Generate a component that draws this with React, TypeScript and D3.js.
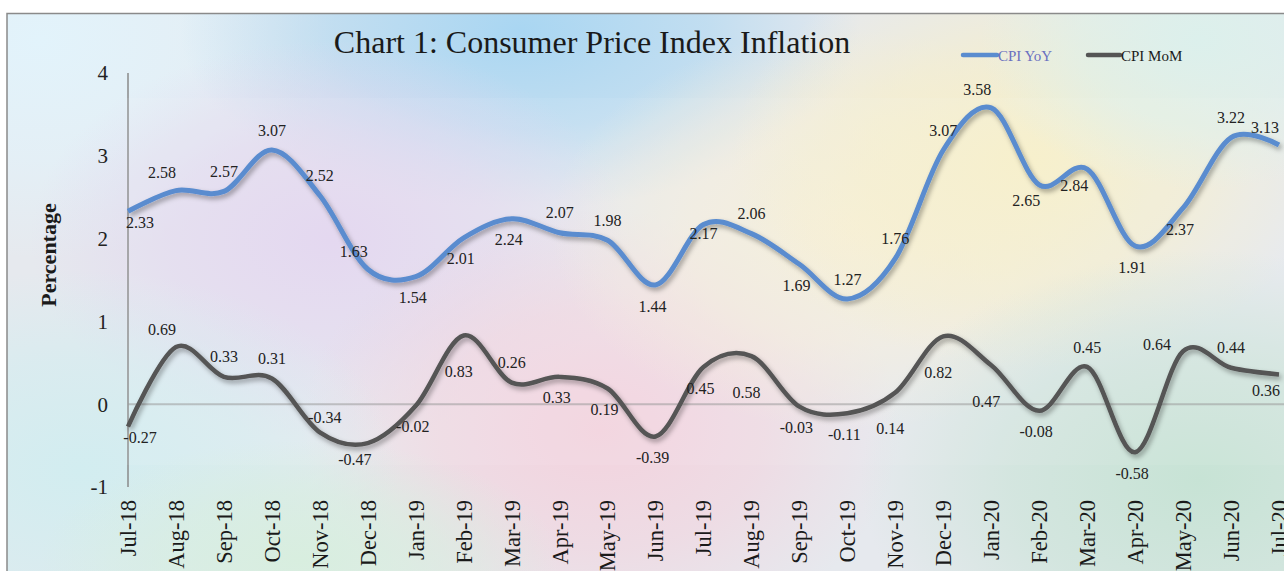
import React from 'react';
import * as d3 from 'd3';

const months = [
  'Jul-18', 'Aug-18', 'Sep-18', 'Oct-18', 'Nov-18', 'Dec-18', 'Jan-19', 'Feb-19', 'Mar-19',
  'Apr-19', 'May-19', 'Jun-19', 'Jul-19', 'Aug-19', 'Sep-19', 'Oct-19', 'Nov-19', 'Dec-19',
  'Jan-20', 'Feb-20', 'Mar-20', 'Apr-20', 'May-20', 'Jun-20', 'Jul-20',
];
const cpiYoY = [
  2.33, 2.58, 2.57, 3.07, 2.52, 1.63, 1.54, 2.01, 2.24, 2.07, 1.98, 1.44, 2.17,
  2.06, 1.69, 1.27, 1.76, 3.07, 3.58, 2.65, 2.84, 1.91, 2.37, 3.22, 3.13,
];
const cpiMoM = [
  -0.27, 0.69, 0.33, 0.31, -0.34, -0.47, -0.02, 0.83, 0.26, 0.33, 0.19, -0.39, 0.45,
  0.58, -0.03, -0.11, 0.14, 0.82, 0.47, -0.08, 0.45, -0.58, 0.64, 0.44, 0.36,
];
const yTicks = [-1, 0, 1, 2, 3, 4];

// where Excel dropped each data label relative to its point
const yoyLabelPos = [
  'br', 'al', 'a', 'a', 'a', 'al', 'b', 'b', 'b', 'a', 'a', 'b', 'c',
  'a', 'b', 'a', 'a', 'a', 'al', 'bl', 'bl', 'b', 'b', 'a', 'al',
];
const momLabelPos = [
  'br', 'al', 'a', 'a', 'ar', 'bl', 'b', 'B', 'a', 'b', 'b', 'b', 'b',
  'B', 'b', 'b', 'B', 'B', 'B', 'b', 'a', 'b', 'l', 'a', 'bl',
];

const offsets: Record<string, [number, number]> = {
  a: [0, -20],
  al: [-14, -18],
  ar: [5, -15],
  b: [-3, 21],
  bl: [-13, 16],
  br: [12, 11],
  B: [-5, 36],
  c: [0, 9],
  l: [-26, -7],
};

const W = 1284;
const H = 571;
const serif = "'Liberation Serif', 'Times New Roman', serif";

// soft colour blobs that make up the pastel background
const blobs = [
  { cx: 40, cy: 40, rx: 300, ry: 220, color: '#e2f3fb' },
  { cx: 520, cy: 30, rx: 340, ry: 180, color: '#a9d6f2' },
  { cx: 330, cy: 240, rx: 300, ry: 200, color: '#e2d6ef' },
  { cx: 600, cy: 430, rx: 300, ry: 220, color: '#f3d3de' },
  { cx: 850, cy: 230, rx: 300, ry: 200, color: '#f6eed9' },
  { cx: 1030, cy: 160, rx: 300, ry: 210, color: '#f7efc9' },
  { cx: 1200, cy: 40, rx: 220, ry: 150, color: '#dcf0ec' },
  { cx: 1200, cy: 480, rx: 340, ry: 230, color: '#c7e3d5' },
  { cx: 80, cy: 470, rx: 320, ry: 200, color: '#d2edf0' },
  { cx: 300, cy: 560, rx: 260, ry: 120, color: '#d8eedf' },
];

const App = () => {
  const x = d3.scalePoint<string>().domain(months).range([128, 1279]);
  const y = d3.scaleLinear().domain([-1, 4]).range([487, 73]);

  const line = d3
    .line<number>()
    .x((_, i) => x(months[i])!)
    .y(d => y(d))
    .curve(d3.curveCatmullRom.alpha(0));

  const labels = (vals: number[], pos: string[]) =>
    vals.map((v, i) => {
      const [dx, dy] = offsets[pos[i]];
      return (
        <text
          key={i}
          x={x(months[i])! + dx}
          y={y(v) + dy}
          dy="0.35em"
          textAnchor="middle"
          fontSize={16}
          fill="#222"
        >
          {v.toFixed(2)}
        </text>
      );
    });

  return (
    <svg
      width={W}
      height={H}
      style={{ position: 'absolute', left: 0, top: 0, fontFamily: serif }}
    >
      <defs>
        {blobs.map((b, i) => (
          <radialGradient key={i} id={`blob${i}`}>
            <stop offset="0%" stopColor={b.color} stopOpacity={1} />
            <stop offset="55%" stopColor={b.color} stopOpacity={0.6} />
            <stop offset="100%" stopColor={b.color} stopOpacity={0} />
          </radialGradient>
        ))}
        <filter id="shadow" x="-5%" y="-20%" width="110%" height="140%">
          <feDropShadow dx="2" dy="3" stdDeviation="2.5" floodColor="#000" floodOpacity="0.35" />
        </filter>
        <clipPath id="frame">
          <rect x={7} y={13} width={W} height={H} />
        </clipPath>
      </defs>

      <rect width={W} height={H} fill="#fff" />
      <g clipPath="url(#frame)">
        <rect x={7} y={13} width={W} height={H} fill="#e6e9ee" />
        {blobs.map((b, i) => (
          <ellipse key={i} cx={b.cx} cy={b.cy} rx={b.rx} ry={b.ry} fill={`url(#blob${i})`} />
        ))}
      </g>
      <path d={`M7,${H}V13.5H${W}`} fill="none" stroke="#8a8a8a" strokeWidth={1.5} />

      {/* title */}
      <text x={592} y={53} textAnchor="middle" fontSize={32} fill="#1a1a1a">
        Chart 1: Consumer Price Index Inflation
      </text>

      {/* legend */}
      <line x1={963} x2={997} y1={55} y2={55} stroke="#5a8ccf" strokeWidth={4.5} strokeLinecap="round" />
      <text x={998} y={60.5} fontSize={15} fill="#6a70c0">CPI YoY</text>
      <line x1={1088} x2={1120} y1={55} y2={55} stroke="#555" strokeWidth={4.5} strokeLinecap="round" />
      <text x={1121} y={60.5} fontSize={15} fill="#1a1a1a">CPI MoM</text>

      {/* y axis */}
      <line x1={128} x2={128} y1={y(4)} y2={y(-1)} stroke="#8a8a8a" strokeWidth={1.5} />
      <rect x={126} y={98} width={W} height={367} fill="#fff" opacity={0.07} />
      {yTicks.map(t => (
        <text key={t} x={108} y={y(t)} dy="0.35em" textAnchor="end" fontSize={21} fill="#222">
          {t}
        </text>
      ))}
      <text
        transform="translate(48,255) rotate(-90)"
        textAnchor="middle"
        dy="0.35em"
        fontSize={22}
        fontWeight="bold"
        fill="#1a1a1a"
      >
        Percentage
      </text>

      {/* zero line */}
      <line x1={128} x2={W} y1={y(0)} y2={y(0)} stroke="#9a9a9a" strokeOpacity={0.55} strokeWidth={2} />

      {/* x labels */}
      {months.map(m => (
        <text
          key={m}
          transform={`translate(${x(m)},500) rotate(-90)`}
          textAnchor="end"
          dy="0.35em"
          fontSize={22.5}
          fill="#1a1a1a"
        >
          {m}
        </text>
      ))}

      {/* series */}
      <path d={line(cpiYoY)!} fill="none" stroke="#5a8ccf" strokeWidth={5} filter="url(#shadow)" />
      <path d={line(cpiMoM)!} fill="none" stroke="#545454" strokeWidth={4.5} filter="url(#shadow)" />

      {labels(cpiYoY, yoyLabelPos)}
      {labels(cpiMoM, momLabelPos)}
    </svg>
  );
};

export default App;
